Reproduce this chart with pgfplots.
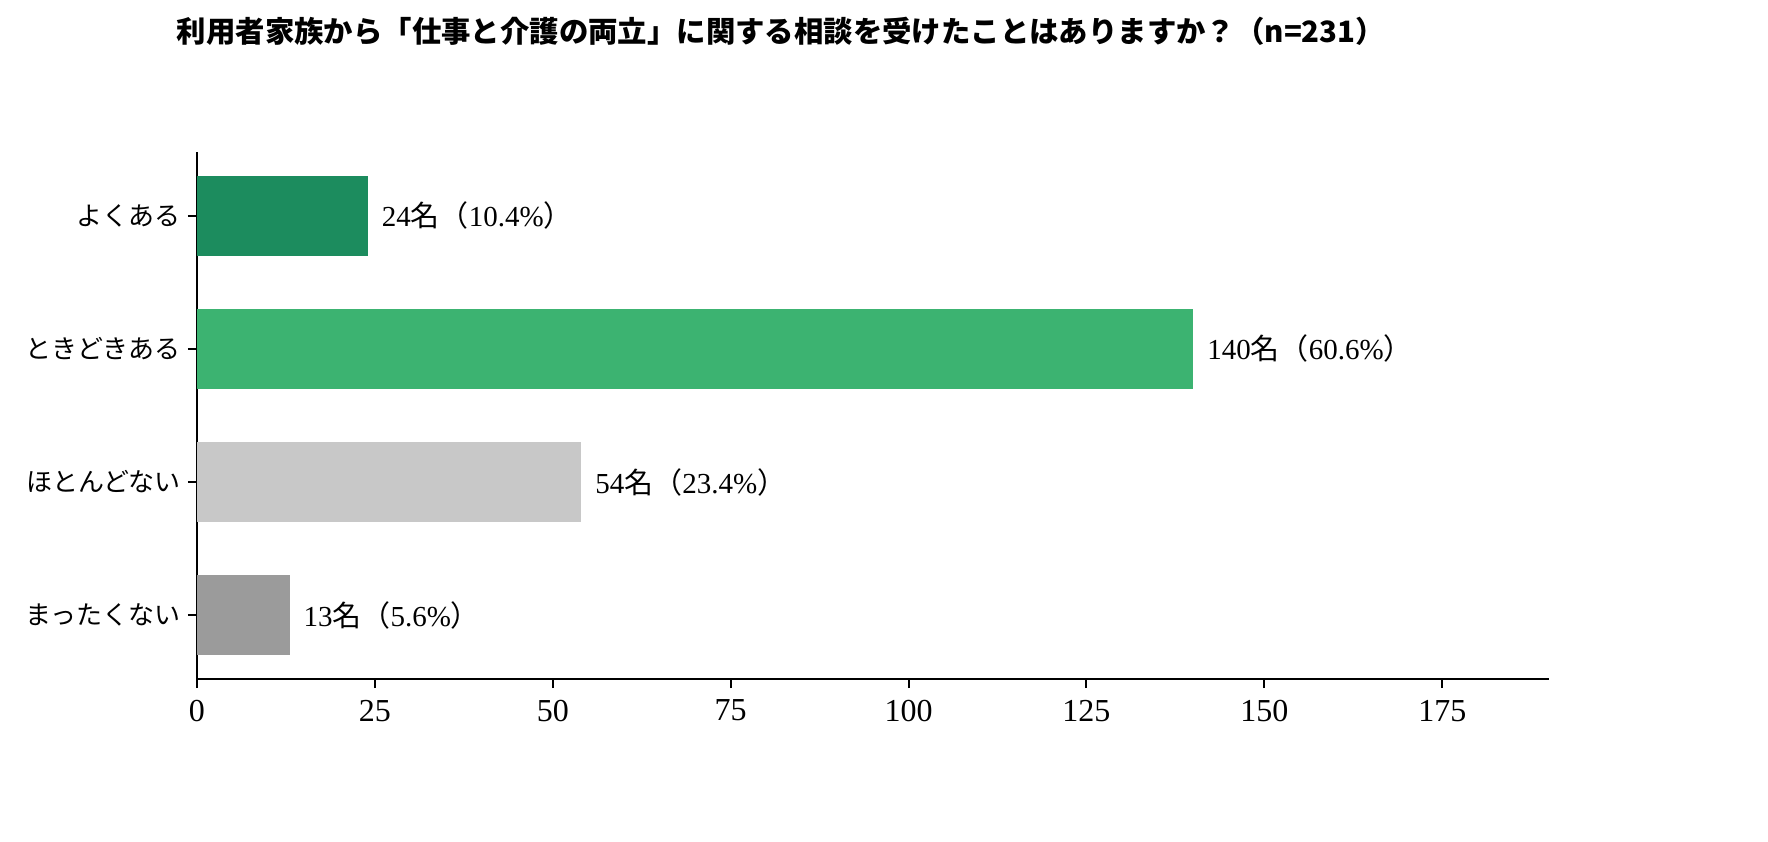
\documentclass[border=0pt]{standalone}
\usepackage{fontspec}
\setmainfont{Liberation Serif}
\newfontfamily\cjk{Noto Sans CJK JP}
\usepackage{pgfplots}
\pgfplotsset{compat=1.18}
\definecolor{cA}{HTML}{1C8C5E}
\definecolor{cB}{HTML}{3CB371}
\definecolor{cC}{HTML}{C8C8C8}
\definecolor{cD}{HTML}{9B9B9B}
\newcommand\mei{{\cjk 名（}}
\newcommand\toj{{\cjk ）}}
\begin{document}
\begin{tikzpicture}
\path[use as bounding box] (-98.5bp,-81.5bp) rectangle (785.5bp,339.5bp);
\begin{axis}[
  scale only axis, width=676bp, height=263.5bp,
  xmin=0, xmax=190, ymin=-0.48, ymax=3.48,
  axis x line*=bottom, axis y line*=left,
  x axis line style={-}, y axis line style={-},
  axis line style={line width=1bp, black},
  tick style={line width=1bp, black},
  tick align=outside, major tick length=4.5bp,
  xtick={0,25,50,75,100,125,150,175},
  ytick={0,1,2,3},
  yticklabels={まったくない,ほとんどない,ときどきある,よくある},
  /pgf/number format/assume math mode=true,
  x tick label style={font=\fontsize{16bp}{18bp}\selectfont, yshift=-2.5bp},
  y tick label style={font=\fontsize{13bp}{16bp}\selectfont\cjk},
  xbar, bar width=0.6, bar shift=0pt,
  nodes near coords, point meta=explicit symbolic,
  every node near coord/.append style={anchor=west, xshift=3.5bp, font=\fontsize{14.5bp}{17bp}\selectfont, text=black},
]
\addplot[draw=none, fill=cA] coordinates {(24,3) [24\mei 10.4\%\toj]};
\addplot[draw=none, fill=cB] coordinates {(140,2) [140\mei 60.6\%\toj]};
\addplot[draw=none, fill=cC] coordinates {(54,1) [54\mei 23.4\%\toj]};
\addplot[draw=none, fill=cD] coordinates {(13,0) [13\mei 5.6\%\toj]};
\end{axis}
\node[font=\fontsize{14.7bp}{18bp}\selectfont\cjk\bfseries] at (292bp,324bp) {利用者家族から「仕事と介護の両立」に関する相談を受けたことはありますか？（n=231）};
\end{tikzpicture}
\end{document}
